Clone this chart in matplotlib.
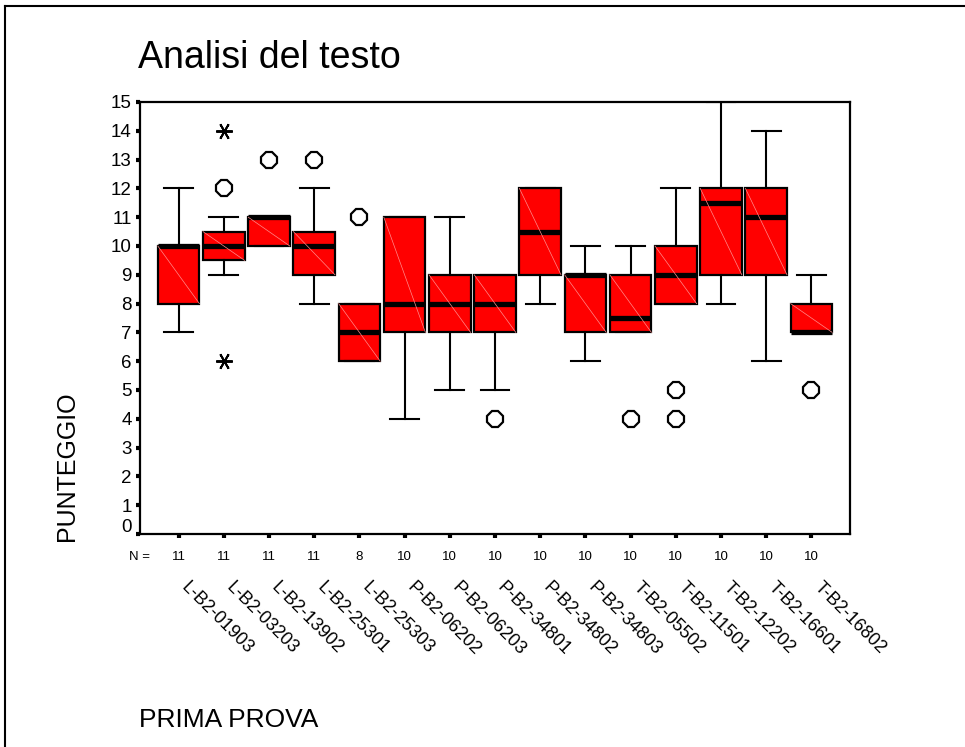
import matplotlib
matplotlib.use("Agg")
import matplotlib.pyplot as plt
import matplotlib.transforms as mtransforms
from matplotlib.lines import Line2D

plt.rcParams["font.family"] = ["Liberation Sans", "DejaVu Sans"]

# ---- dati: una scatola per ogni prova ----
CODICI = ["L-B2-01903", "L-B2-03203", "L-B2-13902", "L-B2-25301", "L-B2-25303",
          "P-B2-06202", "P-B2-06203", "P-B2-34801", "P-B2-34802", "P-B2-34803",
          "T-B2-05502", "T-B2-11501", "T-B2-12202", "T-B2-16601", "T-B2-16802"]
N_CASI = [11, 11, 11, 11, 8, 10, 10, 10, 10, 10, 10, 10, 10, 10, 10]
Q1     = [8, 9.5, 10, 9, 6, 7, 7, 7, 9, 7, 7, 8, 9, 9, 7]
MEDIANA = [10, 10, 11, 10, 7, 8, 8, 8, 10.5, 9, 7.5, 9, 11.5, 11, 7]
Q3     = [10, 10.5, 11, 10.5, 8, 11, 9, 9, 12, 9, 9, 10, 12, 12, 8]
BAFFO_MIN = [7, 9, 10, 8, 6, 4, 5, 5, 8, 6, 7, 8, 8, 6, 7]
BAFFO_MAX = [12, 11, 11, 12, 8, 11, 11, 9, 12, 10, 10, 12, 15, 14, 9]
# valori anomali (cerchi) ed estremi (asterischi)
ANOMALI = [[], [12], [13], [13], [11], [], [], [4], [], [], [4], [5, 4], [], [], [5]]
ESTREMI = [[], [14, 6], [], [], [], [], [], [], [], [], [], [], [], [], []]

fig = plt.figure(figsize=(9.65, 7.47), dpi=100)
ax = fig.add_axes([140 / 965, 1 - 534 / 747, 710 / 965, 432 / 747])

pos = list(range(1, len(CODICI) + 1))
stats = []
for i in range(len(CODICI)):
    stats.append({"med": MEDIANA[i], "q1": Q1[i], "q3": Q3[i],
                  "whislo": BAFFO_MIN[i], "whishi": BAFFO_MAX[i],
                  "fliers": ANOMALI[i]})

LARG = 0.92
ax.bxp(stats, positions=pos, widths=LARG, capwidths=0.64, patch_artist=True,
       boxprops=dict(facecolor="#ff0000", edgecolor="black", linewidth=1.6),
       medianprops=dict(color="black", linewidth=3.8, solid_capstyle="butt"),
       whiskerprops=dict(color="black", linewidth=1.5),
       capprops=dict(color="black", linewidth=1.5),
       flierprops=dict(marker="8", markersize=12, markerfacecolor="none",
                       markeredgecolor="black", markeredgewidth=1.6, linestyle="none"))

# riga diagonale chiara dentro ogni scatola
for i, p in enumerate(pos):
    ax.plot([p - LARG / 2, p + LARG / 2], [Q3[i], Q1[i]], color="#ff8c8c",
            linewidth=0.5, zorder=2.5)
    if ESTREMI[i]:
        ax.plot([p] * len(ESTREMI[i]), ESTREMI[i], linestyle="none",
                marker=(6, 2, 90), markersize=12, markeredgewidth=1.4, color="black")

ax.set_xlim(0.146, 15.854)
ax.set_ylim(0, 15)
ax.set_yticks(range(0, 16))
ax.set_yticklabels([str(v) for v in range(0, 16)], fontsize=13.5)
ax.set_xticks(pos)
ax.set_xticklabels([])
ax.tick_params(axis="both", direction="out", length=3, width=3, color="black")
ax.tick_params(axis="y", pad=3)
for s in ax.spines.values():
    s.set_linewidth(1.6)

# lo zero un po' piu' in alto, come nei grafici SPSS
lab0 = ax.get_yticklabels()[0]
lab0.set_transform(lab0.get_transform() +
                   mtransforms.ScaledTranslation(0, 9 / 100, fig.dpi_scale_trans))

# numerosita' e codici sotto l'asse
trans = mtransforms.blended_transform_factory(ax.transData, ax.transAxes)
fig.text(150 / 965, 1 - 557 / 747, "N =", fontsize=9.5, ha="right", va="center")
spost = mtransforms.ScaledTranslation(11 / 100, 0, fig.dpi_scale_trans)
for i, p in enumerate(pos):
    ax.text(p, (534 - 557) / 432, str(N_CASI[i]), transform=trans,
            fontsize=9.5, ha="center", va="center")
    ax.text(p, (534 - 579) / 432, CODICI[i], transform=trans + spost,
            fontsize=13, rotation=-45, rotation_mode="anchor",
            ha="left", va="top")

fig.text(138 / 965, 1 - 68 / 747, "Analisi del testo", fontsize=27,
         ha="left", va="baseline")
fig.text(67 / 965, 1 - 466 / 747, "PUNTEGGIO", fontsize=18, rotation=90,
         ha="center", va="center")
fig.text(139 / 965, 1 - 727 / 747, "PRIMA PROVA", fontsize=19,
         ha="left", va="baseline")

# cornice del foglio (lato sinistro e superiore)
fig.add_artist(Line2D([5 / 965, 5 / 965], [0, 1 - 6 / 747], color="black",
                      linewidth=1.5, transform=fig.transFigure))
fig.add_artist(Line2D([5 / 965, 1], [1 - 6 / 747, 1 - 6 / 747], color="black",
                      linewidth=1.5, transform=fig.transFigure))

fig.savefig("out.png", dpi=100)
